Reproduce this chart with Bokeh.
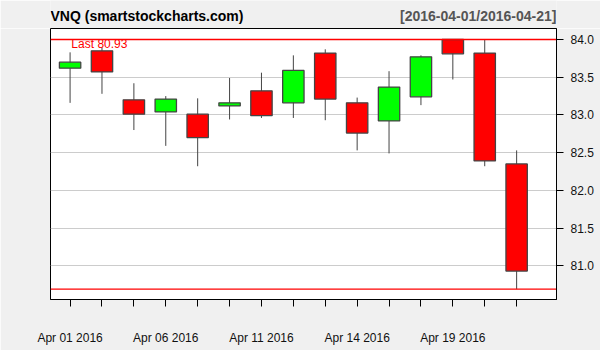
from bokeh.plotting import figure
from bokeh.layouts import column
from bokeh.models import Range1d, LinearAxis, FixedTicker, Label, ColumnDataSource, NumeralTickFormatter, Grid
from bokeh.core.properties import value
from bokeh.embed import file_html
from bokeh.resources import INLINE

dates = ["Apr 01 2016", "Apr 04 2016", "Apr 05 2016", "Apr 06 2016", "Apr 07 2016",
         "Apr 08 2016", "Apr 11 2016", "Apr 12 2016", "Apr 13 2016", "Apr 14 2016",
         "Apr 15 2016", "Apr 18 2016", "Apr 19 2016", "Apr 20 2016", "Apr 21 2016"]
opens = [83.62, 83.85, 83.20, 83.04, 83.01, 83.12, 83.32, 83.16, 83.82, 83.16, 82.92, 83.24, 84.00, 83.82, 82.35]
highs = [83.83, 83.90, 83.42, 83.25, 83.22, 83.49, 83.56, 83.79, 83.87, 83.23, 83.58, 83.79, 84.00, 84.00, 82.53]
lows = [83.16, 83.28, 82.80, 82.59, 82.32, 82.94, 82.96, 82.96, 82.93, 82.53, 82.49, 83.13, 83.47, 82.32, 80.69]
closes = [83.70, 83.57, 83.01, 83.21, 82.70, 83.16, 82.99, 83.59, 83.21, 82.76, 83.37, 83.77, 83.81, 82.39, 80.93]
label_every = [0, 3, 6, 9, 12]
y_ticks = [81.0, 81.5, 82.0, 82.5, 83.0, 83.5, 84.0]
title_left = "VNQ (smartstockcharts.com)"
title_right = "[2016-04-01/2016-04-21]"

FONT = "Liberation Sans"
BG = "#f0f0f0"
X0, X1 = -0.614, 15.25
idx = list(range(len(dates)))
colors = ["#00ff00" if c >= o else "#ff0000" for o, c in zip(opens, closes)]
tops = [max(o, c) for o, c in zip(opens, closes)]
bots = [min(o, c) for o, c in zip(opens, closes)]
src = ColumnDataSource(dict(x=idx, o=opens, h=highs, l=lows, c=closes, col=colors, top=tops, bot=bots))

t = figure(width=600, height=28, output_backend="svg", toolbar_location=None,
           x_range=Range1d(50, 556), y_range=Range1d(0, 28),
           min_border_left=50, min_border_right=44, min_border_top=0, min_border_bottom=0,
           x_axis_type=None, y_axis_type=None)
t.background_fill_color = BG
t.border_fill_color = BG
t.outline_line_color = None
t.grid.visible = False
t.text(x=[50], y=[13], text=[title_left], text_color="black", text_font=value(FONT),
       text_font_size="14px", text_font_style="bold", text_baseline="middle", text_align="left")
t.text(x=[556], y=[13], text=[title_right], text_color="#555555", text_font=value(FONT),
       text_font_size="14px", text_font_style="bold", text_baseline="middle", text_align="right")

p = figure(width=600, height=322, output_backend="svg", toolbar_location=None,
           x_range=Range1d(X0, X1), y_range=Range1d(80.553, 84.146),
           min_border_left=50, min_border_right=44, min_border_top=0, min_border_bottom=51,
           x_axis_type=None, y_axis_type=None)
p.background_fill_color = "white"
p.border_fill_color = BG
p.outline_line_color = "black"
p.outline_line_width = 1
p.xgrid.visible = False
p.ygrid.visible = False

yax = LinearAxis(ticker=FixedTicker(ticks=y_ticks), formatter=NumeralTickFormatter(format="0.0"))
yax.major_tick_out = 7
yax.major_tick_in = 0
yax.minor_tick_line_color = None
yax.major_label_standoff = 7
yax.major_label_text_font = FONT
yax.major_label_text_font_size = "12px"
yax.major_label_text_color = "#111111"
yax.axis_line_color = "black"
yax.major_tick_line_color = "black"
p.add_layout(yax, "right")

xax = LinearAxis(ticker=FixedTicker(ticks=idx))
xax.major_label_overrides = {i: (dates[i] if i in label_every else "") for i in idx}
xax.major_tick_out = 7
xax.major_tick_in = 0
xax.minor_tick_line_color = None
xax.major_label_standoff = 24
xax.major_label_text_font = FONT
xax.major_label_text_font_size = "12px"
xax.major_label_text_color = "#111111"
xax.axis_line_color = "black"
xax.major_tick_line_color = "black"
p.add_layout(xax, "below")

p.add_layout(Grid(dimension=1, ticker=FixedTicker(ticks=y_ticks[:-1]), grid_line_color="#cccccc", grid_line_width=1))

p.segment(x0="x", x1="x", y0="l", y1="h", source=src, line_color="#444444", line_width=1)
p.vbar(x="x", width=0.67, top="top", bottom="bot", source=src, fill_color="col", line_color="#444444", line_width=1.3)

p.segment(x0=[X0], x1=[X1], y0=[max(highs)], y1=[max(highs)], line_color="#ff0000", line_width=1.5)
p.segment(x0=[X0], x1=[X1], y0=[min(lows)], y1=[min(lows)], line_color="#ff0000", line_width=1.2)

p.add_layout(Label(x=0.04, y=83.94, text="Last %.2f" % closes[-1], text_color="red",
                   text_font=FONT, text_font_size="12px", text_baseline="middle", text_align="left"))

layout = column(t, p, spacing=0)
open("out.html", "w").write(file_html(layout, INLINE))
